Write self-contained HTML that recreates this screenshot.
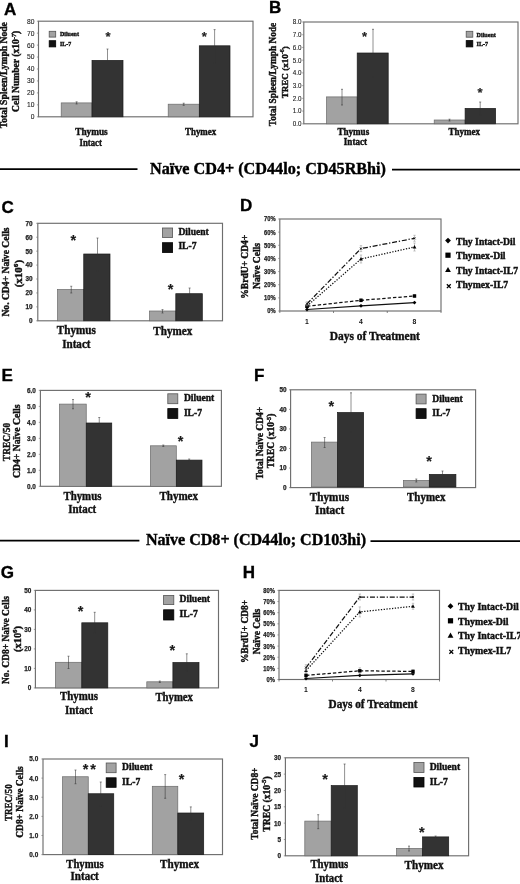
<!DOCTYPE html>
<html><head><meta charset="utf-8"><style>
html,body{margin:0;padding:0;background:#fff;}
body{width:520px;height:884px;overflow:hidden;font-family:"Liberation Serif", serif;}
svg{display:block;will-change:transform;filter:blur(0.35px);}
</style></head><body>
<svg width="520" height="884" viewBox="0 0 520 884">
<rect width="520" height="884" fill="#fff"/>
<text x="3.95" y="14.5" font-family='"Liberation Sans", sans-serif' font-weight="bold" font-size="17" text-anchor="start" fill="#000" stroke="#000" stroke-width="0.35">A</text>
<rect x="38.5" y="21.2" width="214.5" height="95.6" fill="none" stroke="#6e6e6e" stroke-width="1.15"/>
<line x1="36.9" y1="116.8" x2="38.5" y2="116.8" stroke="#777" stroke-width="0.7"/>
<text x="34.4" y="119.21" font-family='"Liberation Sans", sans-serif' font-weight="normal" font-size="6.7" text-anchor="end" fill="#1a1a1a" textLength="3.73" lengthAdjust="spacingAndGlyphs" stroke="#1a1a1a" stroke-width="0.1">0</text>
<line x1="36.9" y1="104.85" x2="38.5" y2="104.85" stroke="#777" stroke-width="0.7"/>
<text x="34.4" y="107.26" font-family='"Liberation Sans", sans-serif' font-weight="normal" font-size="6.7" text-anchor="end" fill="#1a1a1a" textLength="7.45" lengthAdjust="spacingAndGlyphs" stroke="#1a1a1a" stroke-width="0.1">10</text>
<line x1="36.9" y1="92.9" x2="38.5" y2="92.9" stroke="#777" stroke-width="0.7"/>
<text x="34.4" y="95.31" font-family='"Liberation Sans", sans-serif' font-weight="normal" font-size="6.7" text-anchor="end" fill="#1a1a1a" textLength="7.45" lengthAdjust="spacingAndGlyphs" stroke="#1a1a1a" stroke-width="0.1">20</text>
<line x1="36.9" y1="80.95" x2="38.5" y2="80.95" stroke="#777" stroke-width="0.7"/>
<text x="34.4" y="83.36" font-family='"Liberation Sans", sans-serif' font-weight="normal" font-size="6.7" text-anchor="end" fill="#1a1a1a" textLength="7.45" lengthAdjust="spacingAndGlyphs" stroke="#1a1a1a" stroke-width="0.1">30</text>
<line x1="36.9" y1="69" x2="38.5" y2="69" stroke="#777" stroke-width="0.7"/>
<text x="34.4" y="71.41" font-family='"Liberation Sans", sans-serif' font-weight="normal" font-size="6.7" text-anchor="end" fill="#1a1a1a" textLength="7.45" lengthAdjust="spacingAndGlyphs" stroke="#1a1a1a" stroke-width="0.1">40</text>
<line x1="36.9" y1="57.05" x2="38.5" y2="57.05" stroke="#777" stroke-width="0.7"/>
<text x="34.4" y="59.46" font-family='"Liberation Sans", sans-serif' font-weight="normal" font-size="6.7" text-anchor="end" fill="#1a1a1a" textLength="7.45" lengthAdjust="spacingAndGlyphs" stroke="#1a1a1a" stroke-width="0.1">50</text>
<line x1="36.9" y1="45.1" x2="38.5" y2="45.1" stroke="#777" stroke-width="0.7"/>
<text x="34.4" y="47.51" font-family='"Liberation Sans", sans-serif' font-weight="normal" font-size="6.7" text-anchor="end" fill="#1a1a1a" textLength="7.45" lengthAdjust="spacingAndGlyphs" stroke="#1a1a1a" stroke-width="0.1">60</text>
<line x1="36.9" y1="33.15" x2="38.5" y2="33.15" stroke="#777" stroke-width="0.7"/>
<text x="34.4" y="35.56" font-family='"Liberation Sans", sans-serif' font-weight="normal" font-size="6.7" text-anchor="end" fill="#1a1a1a" textLength="7.45" lengthAdjust="spacingAndGlyphs" stroke="#1a1a1a" stroke-width="0.1">70</text>
<line x1="36.9" y1="21.2" x2="38.5" y2="21.2" stroke="#777" stroke-width="0.7"/>
<text x="34.4" y="23.61" font-family='"Liberation Sans", sans-serif' font-weight="normal" font-size="6.7" text-anchor="end" fill="#1a1a1a" textLength="7.45" lengthAdjust="spacingAndGlyphs" stroke="#1a1a1a" stroke-width="0.1">80</text>
<text transform="translate(7,75.2) rotate(-90)" x="0" y="0" font-family='"Liberation Serif", serif' font-weight="bold" font-size="9.5" text-anchor="middle" fill="#111" stroke="#111" stroke-width="0.4" textLength="106" lengthAdjust="spacingAndGlyphs">Total Spleen/Lymph Node</text>
<text transform="translate(19.2,71.3) rotate(-90)" x="0" y="0" font-family='"Liberation Serif", serif' font-weight="bold" font-size="9.61" text-anchor="middle" fill="#111" stroke="#111" stroke-width="0.4">Cell Number (x10<tspan dy="-3.46" font-size="6.25">-7</tspan><tspan dy="3.46">)</tspan></text>
<rect x="61.2" y="102.9" width="30.8" height="13.9" fill="#a2a2a2" stroke="#6a6a6a" stroke-width="0.7"/>
<rect x="92" y="60.4" width="31" height="56.4" fill="#333333" stroke="#1a1a1a" stroke-width="0.7"/>
<path d="M107.5 49V72M106.5 49H108.5M106.5 72H108.5" stroke="#333" stroke-width="0.55" fill="none"/>
<path d="M76.6 101.8V104M75.6 101.8H77.6M75.6 104H77.6" stroke="#333" stroke-width="0.55" fill="none"/>
<rect x="168.2" y="104.2" width="31.1" height="12.6" fill="#a2a2a2" stroke="#6a6a6a" stroke-width="0.7"/>
<rect x="199.3" y="45.8" width="30.7" height="71" fill="#333333" stroke="#1a1a1a" stroke-width="0.7"/>
<path d="M214.6 29.6V63M213.6 29.6H215.6M213.6 63H215.6" stroke="#333" stroke-width="0.55" fill="none"/>
<path d="M183.7 103.2V105.4M182.7 103.2H184.7M182.7 105.4H184.7" stroke="#333" stroke-width="0.55" fill="none"/>
<text x="108" y="40.66" font-family='"Liberation Sans", sans-serif' font-weight="bold" font-size="13" text-anchor="middle" fill="#222" stroke="#222" stroke-width="0.15">*</text>
<text x="204.4" y="41.27" font-family='"Liberation Sans", sans-serif' font-weight="bold" font-size="13" text-anchor="middle" fill="#222" stroke="#222" stroke-width="0.15">*</text>
<rect x="49.2" y="31.3" width="6.5" height="5.8" fill="#a2a2a2" stroke="#555" stroke-width="0.8"/>
<text x="60" y="36.3" font-family='"Liberation Serif", serif' font-weight="bold" font-size="6.8" text-anchor="start" fill="#111" stroke="#111" stroke-width="0.4" textLength="18.9" lengthAdjust="spacingAndGlyphs">Diluent</text>
<rect x="49.2" y="40.7" width="6.5" height="6.2" fill="#111" stroke="#000" stroke-width="0.8"/>
<text x="60" y="45.6" font-family='"Liberation Serif", serif' font-weight="bold" font-size="6.8" text-anchor="start" fill="#111" stroke="#111" stroke-width="0.4" textLength="11.2" lengthAdjust="spacingAndGlyphs">IL-7</text>
<text x="75.2" y="135.1" font-family='"Liberation Serif", serif' font-weight="bold" font-size="9.5" text-anchor="start" fill="#111" stroke="#111" stroke-width="0.4" textLength="32.5" lengthAdjust="spacingAndGlyphs">Thymus</text>
<text x="79.6" y="145.5" font-family='"Liberation Serif", serif' font-weight="bold" font-size="9.5" text-anchor="start" fill="#111" stroke="#111" stroke-width="0.4" textLength="22.3" lengthAdjust="spacingAndGlyphs">Intact</text>
<text x="185" y="135.4" font-family='"Liberation Serif", serif' font-weight="bold" font-size="9.5" text-anchor="start" fill="#111" stroke="#111" stroke-width="0.4" textLength="31.2" lengthAdjust="spacingAndGlyphs">Thymex</text>
<text x="269.1" y="13.15" font-family='"Liberation Sans", sans-serif' font-weight="bold" font-size="17" text-anchor="start" fill="#000" stroke="#000" stroke-width="0.35">B</text>
<rect x="303.8" y="22" width="214.2" height="101.8" fill="none" stroke="#6e6e6e" stroke-width="1.15"/>
<line x1="302.2" y1="123.8" x2="303.8" y2="123.8" stroke="#777" stroke-width="0.7"/>
<text x="301.6" y="126.14" font-family='"Liberation Sans", sans-serif' font-weight="normal" font-size="6.5" text-anchor="end" fill="#1a1a1a" textLength="8.76" lengthAdjust="spacingAndGlyphs" stroke="#1a1a1a" stroke-width="0.1">0.0</text>
<line x1="302.2" y1="111.08" x2="303.8" y2="111.08" stroke="#777" stroke-width="0.7"/>
<text x="301.6" y="113.42" font-family='"Liberation Sans", sans-serif' font-weight="normal" font-size="6.5" text-anchor="end" fill="#1a1a1a" textLength="8.76" lengthAdjust="spacingAndGlyphs" stroke="#1a1a1a" stroke-width="0.1">1.0</text>
<line x1="302.2" y1="98.35" x2="303.8" y2="98.35" stroke="#777" stroke-width="0.7"/>
<text x="301.6" y="100.69" font-family='"Liberation Sans", sans-serif' font-weight="normal" font-size="6.5" text-anchor="end" fill="#1a1a1a" textLength="8.76" lengthAdjust="spacingAndGlyphs" stroke="#1a1a1a" stroke-width="0.1">2.0</text>
<line x1="302.2" y1="85.62" x2="303.8" y2="85.62" stroke="#777" stroke-width="0.7"/>
<text x="301.6" y="87.97" font-family='"Liberation Sans", sans-serif' font-weight="normal" font-size="6.5" text-anchor="end" fill="#1a1a1a" textLength="8.76" lengthAdjust="spacingAndGlyphs" stroke="#1a1a1a" stroke-width="0.1">3.0</text>
<line x1="302.2" y1="72.9" x2="303.8" y2="72.9" stroke="#777" stroke-width="0.7"/>
<text x="301.6" y="75.24" font-family='"Liberation Sans", sans-serif' font-weight="normal" font-size="6.5" text-anchor="end" fill="#1a1a1a" textLength="8.76" lengthAdjust="spacingAndGlyphs" stroke="#1a1a1a" stroke-width="0.1">4.0</text>
<line x1="302.2" y1="60.17" x2="303.8" y2="60.17" stroke="#777" stroke-width="0.7"/>
<text x="301.6" y="62.52" font-family='"Liberation Sans", sans-serif' font-weight="normal" font-size="6.5" text-anchor="end" fill="#1a1a1a" textLength="8.76" lengthAdjust="spacingAndGlyphs" stroke="#1a1a1a" stroke-width="0.1">5.0</text>
<line x1="302.2" y1="47.45" x2="303.8" y2="47.45" stroke="#777" stroke-width="0.7"/>
<text x="301.6" y="49.79" font-family='"Liberation Sans", sans-serif' font-weight="normal" font-size="6.5" text-anchor="end" fill="#1a1a1a" textLength="8.76" lengthAdjust="spacingAndGlyphs" stroke="#1a1a1a" stroke-width="0.1">6.0</text>
<line x1="302.2" y1="34.72" x2="303.8" y2="34.72" stroke="#777" stroke-width="0.7"/>
<text x="301.6" y="37.06" font-family='"Liberation Sans", sans-serif' font-weight="normal" font-size="6.5" text-anchor="end" fill="#1a1a1a" textLength="8.76" lengthAdjust="spacingAndGlyphs" stroke="#1a1a1a" stroke-width="0.1">7.0</text>
<line x1="302.2" y1="22" x2="303.8" y2="22" stroke="#777" stroke-width="0.7"/>
<text x="301.6" y="24.34" font-family='"Liberation Sans", sans-serif' font-weight="normal" font-size="6.5" text-anchor="end" fill="#1a1a1a" textLength="8.76" lengthAdjust="spacingAndGlyphs" stroke="#1a1a1a" stroke-width="0.1">8.0</text>
<text transform="translate(276.2,74.5) rotate(-90)" x="0" y="0" font-family='"Liberation Serif", serif' font-weight="bold" font-size="9.3" text-anchor="middle" fill="#111" stroke="#111" stroke-width="0.4" textLength="103.5" lengthAdjust="spacingAndGlyphs">Total Spleen/Lymph Node</text>
<text transform="translate(287.6,72.3) rotate(-90)" x="0" y="0" font-family='"Liberation Serif", serif' font-weight="bold" font-size="9.07" text-anchor="middle" fill="#111" stroke="#111" stroke-width="0.4">TREC (x10<tspan dy="-3.26" font-size="5.89">-6</tspan><tspan dy="3.26">)</tspan></text>
<rect x="326.5" y="96.9" width="30.7" height="26.9" fill="#a2a2a2" stroke="#6a6a6a" stroke-width="0.7"/>
<rect x="357.2" y="53" width="31" height="70.8" fill="#333333" stroke="#1a1a1a" stroke-width="0.7"/>
<path d="M373 29.3V76.8M372 29.3H374M372 76.8H374" stroke="#333" stroke-width="0.55" fill="none"/>
<path d="M342 89.3V105M341 89.3H343M341 105H343" stroke="#333" stroke-width="0.55" fill="none"/>
<rect x="434.2" y="120" width="30.9" height="3.8" fill="#a2a2a2" stroke="#6a6a6a" stroke-width="0.7"/>
<rect x="465.1" y="108.4" width="30.5" height="15.4" fill="#333333" stroke="#1a1a1a" stroke-width="0.7"/>
<path d="M480.2 102V114.8M479.2 102H481.2M479.2 114.8H481.2" stroke="#333" stroke-width="0.55" fill="none"/>
<path d="M449.5 119.2V121M448.5 119.2H450.5M448.5 121H450.5" stroke="#333" stroke-width="0.55" fill="none"/>
<text x="364.5" y="40.96" font-family='"Liberation Sans", sans-serif' font-weight="bold" font-size="13" text-anchor="middle" fill="#222" stroke="#222" stroke-width="0.15">*</text>
<text x="480" y="96.77" font-family='"Liberation Sans", sans-serif' font-weight="bold" font-size="13" text-anchor="middle" fill="#222" stroke="#222" stroke-width="0.15">*</text>
<rect x="466.2" y="31.3" width="6.6" height="5.9" fill="#a2a2a2" stroke="#555" stroke-width="0.8"/>
<text x="476.6" y="36.5" font-family='"Liberation Serif", serif' font-weight="bold" font-size="6.8" text-anchor="start" fill="#111" stroke="#111" stroke-width="0.4" textLength="19.2" lengthAdjust="spacingAndGlyphs">Diluent</text>
<rect x="466.2" y="40.6" width="6.6" height="6.3" fill="#111" stroke="#000" stroke-width="0.8"/>
<text x="476.6" y="45.5" font-family='"Liberation Serif", serif' font-weight="bold" font-size="6.8" text-anchor="start" fill="#111" stroke="#111" stroke-width="0.4" textLength="11.4" lengthAdjust="spacingAndGlyphs">IL-7</text>
<text x="337.4" y="135" font-family='"Liberation Serif", serif' font-weight="bold" font-size="9.5" text-anchor="start" fill="#111" stroke="#111" stroke-width="0.4" textLength="31.8" lengthAdjust="spacingAndGlyphs">Thymus</text>
<text x="343.8" y="144.7" font-family='"Liberation Serif", serif' font-weight="bold" font-size="9.5" text-anchor="start" fill="#111" stroke="#111" stroke-width="0.4" textLength="23.2" lengthAdjust="spacingAndGlyphs">Intact</text>
<text x="448.5" y="135.4" font-family='"Liberation Serif", serif' font-weight="bold" font-size="9.5" text-anchor="start" fill="#111" stroke="#111" stroke-width="0.4" textLength="31.5" lengthAdjust="spacingAndGlyphs">Thymex</text>
<line x1="0" y1="169.2" x2="137.5" y2="169.2" stroke="#000" stroke-width="1.8"/>
<text x="150" y="173.7" font-family='"Liberation Serif", serif' font-weight="bold" font-size="16.2" text-anchor="start" fill="#000" stroke="#000" stroke-width="0.4" textLength="236" lengthAdjust="spacingAndGlyphs">Naïve CD4+ (CD44lo; CD45RBhi)</text>
<line x1="392" y1="169.6" x2="520" y2="169.6" stroke="#000" stroke-width="1.8"/>
<text x="1.4" y="212.55" font-family='"Liberation Sans", sans-serif' font-weight="bold" font-size="17" text-anchor="start" fill="#000" stroke="#000" stroke-width="0.35">C</text>
<rect x="37.8" y="223.3" width="184.7" height="97.5" fill="none" stroke="#6e6e6e" stroke-width="1.15"/>
<line x1="36.2" y1="320.8" x2="37.8" y2="320.8" stroke="#777" stroke-width="0.7"/>
<text x="32.6" y="323.18" font-family='"Liberation Sans", sans-serif' font-weight="bold" font-size="6.6" text-anchor="end" fill="#222" textLength="3.56" lengthAdjust="spacingAndGlyphs" stroke="#222" stroke-width="0.25">0</text>
<line x1="36.2" y1="306.87" x2="37.8" y2="306.87" stroke="#777" stroke-width="0.7"/>
<text x="32.6" y="309.25" font-family='"Liberation Sans", sans-serif' font-weight="bold" font-size="6.6" text-anchor="end" fill="#222" textLength="7.12" lengthAdjust="spacingAndGlyphs" stroke="#222" stroke-width="0.25">10</text>
<line x1="36.2" y1="292.94" x2="37.8" y2="292.94" stroke="#777" stroke-width="0.7"/>
<text x="32.6" y="295.32" font-family='"Liberation Sans", sans-serif' font-weight="bold" font-size="6.6" text-anchor="end" fill="#222" textLength="7.12" lengthAdjust="spacingAndGlyphs" stroke="#222" stroke-width="0.25">20</text>
<line x1="36.2" y1="279.01" x2="37.8" y2="279.01" stroke="#777" stroke-width="0.7"/>
<text x="32.6" y="281.39" font-family='"Liberation Sans", sans-serif' font-weight="bold" font-size="6.6" text-anchor="end" fill="#222" textLength="7.12" lengthAdjust="spacingAndGlyphs" stroke="#222" stroke-width="0.25">30</text>
<line x1="36.2" y1="265.09" x2="37.8" y2="265.09" stroke="#777" stroke-width="0.7"/>
<text x="32.6" y="267.46" font-family='"Liberation Sans", sans-serif' font-weight="bold" font-size="6.6" text-anchor="end" fill="#222" textLength="7.12" lengthAdjust="spacingAndGlyphs" stroke="#222" stroke-width="0.25">40</text>
<line x1="36.2" y1="251.16" x2="37.8" y2="251.16" stroke="#777" stroke-width="0.7"/>
<text x="32.6" y="253.53" font-family='"Liberation Sans", sans-serif' font-weight="bold" font-size="6.6" text-anchor="end" fill="#222" textLength="7.12" lengthAdjust="spacingAndGlyphs" stroke="#222" stroke-width="0.25">50</text>
<line x1="36.2" y1="237.23" x2="37.8" y2="237.23" stroke="#777" stroke-width="0.7"/>
<text x="32.6" y="239.6" font-family='"Liberation Sans", sans-serif' font-weight="bold" font-size="6.6" text-anchor="end" fill="#222" textLength="7.12" lengthAdjust="spacingAndGlyphs" stroke="#222" stroke-width="0.25">60</text>
<line x1="36.2" y1="223.3" x2="37.8" y2="223.3" stroke="#777" stroke-width="0.7"/>
<text x="32.6" y="225.68" font-family='"Liberation Sans", sans-serif' font-weight="bold" font-size="6.6" text-anchor="end" fill="#222" textLength="7.12" lengthAdjust="spacingAndGlyphs" stroke="#222" stroke-width="0.25">70</text>
<text transform="translate(9.4,272) rotate(-90)" x="0" y="0" font-family='"Liberation Serif", serif' font-weight="bold" font-size="10.5" text-anchor="middle" fill="#111" stroke="#111" stroke-width="0.4" textLength="89.2" lengthAdjust="spacingAndGlyphs">No. CD4+ Naïve Cells</text>
<text transform="translate(21.5,273.6) rotate(-90)" x="0" y="0" font-family='"Liberation Serif", serif' font-weight="bold" font-size="11" text-anchor="middle" fill="#111" stroke="#111" stroke-width="0.4">(x10<tspan dy="-3.96" font-size="7.15">6</tspan><tspan dy="3.96">)</tspan></text>
<rect x="57.5" y="289.5" width="26.25" height="31.3" fill="#a2a2a2" stroke="#6a6a6a" stroke-width="0.7"/>
<rect x="83.75" y="254" width="26.25" height="66.8" fill="#333333" stroke="#1a1a1a" stroke-width="0.7"/>
<path d="M97.5 238V271.25M96.5 238H98.5M96.5 271.25H98.5" stroke="#333" stroke-width="0.55" fill="none"/>
<path d="M71.25 286.25V293M70.25 286.25H72.25M70.25 293H72.25" stroke="#333" stroke-width="0.55" fill="none"/>
<rect x="149.5" y="311" width="26.3" height="9.8" fill="#a2a2a2" stroke="#6a6a6a" stroke-width="0.7"/>
<rect x="175.8" y="293.7" width="26.5" height="27.1" fill="#333333" stroke="#1a1a1a" stroke-width="0.7"/>
<path d="M189.6 288V299.5M188.6 288H190.6M188.6 299.5H190.6" stroke="#333" stroke-width="0.55" fill="none"/>
<path d="M162.5 309.6V313M161.5 309.6H163.5M161.5 313H163.5" stroke="#333" stroke-width="0.55" fill="none"/>
<text x="73.3" y="245.32" font-family='"Liberation Sans", sans-serif' font-weight="bold" font-size="14.5" text-anchor="middle" fill="#1a1a1a" stroke="#1a1a1a" stroke-width="0.15">*</text>
<text x="170.6" y="293.82" font-family='"Liberation Sans", sans-serif' font-weight="bold" font-size="14.5" text-anchor="middle" fill="#1a1a1a" stroke="#1a1a1a" stroke-width="0.15">*</text>
<rect x="162.5" y="228" width="10.1" height="9.5" fill="#a2a2a2" stroke="#555" stroke-width="0.8"/>
<text x="178.4" y="235.1" font-family='"Liberation Serif", serif' font-weight="bold" font-size="9.6" text-anchor="start" fill="#111" stroke="#111" stroke-width="0.4">Diluent</text>
<rect x="162.5" y="242.7" width="10.1" height="9.8" fill="#111" stroke="#000" stroke-width="0.8"/>
<text x="178.4" y="249.4" font-family='"Liberation Serif", serif' font-weight="bold" font-size="9.6" text-anchor="start" fill="#111" stroke="#111" stroke-width="0.4">IL-7</text>
<text x="56.8" y="334.2" font-family='"Liberation Serif", serif' font-weight="bold" font-size="11.8" text-anchor="start" fill="#111" stroke="#111" stroke-width="0.4" textLength="39.1" lengthAdjust="spacingAndGlyphs">Thymus</text>
<text x="62.2" y="348" font-family='"Liberation Serif", serif' font-weight="bold" font-size="11.8" text-anchor="start" fill="#111" stroke="#111" stroke-width="0.4" textLength="28.3" lengthAdjust="spacingAndGlyphs">Intact</text>
<text x="153.3" y="335" font-family='"Liberation Serif", serif' font-weight="bold" font-size="11.8" text-anchor="start" fill="#111" stroke="#111" stroke-width="0.4" textLength="38.9" lengthAdjust="spacingAndGlyphs">Thymex</text>
<text x="1.6" y="380.95" font-family='"Liberation Sans", sans-serif' font-weight="bold" font-size="17" text-anchor="start" fill="#000" stroke="#000" stroke-width="0.35">E</text>
<rect x="40.4" y="390.4" width="181" height="95.9" fill="none" stroke="#6e6e6e" stroke-width="1.15"/>
<line x1="38.8" y1="486.3" x2="40.4" y2="486.3" stroke="#777" stroke-width="0.7"/>
<text x="35.8" y="488.68" font-family='"Liberation Sans", sans-serif' font-weight="bold" font-size="6.6" text-anchor="end" fill="#222" textLength="8.9" lengthAdjust="spacingAndGlyphs" stroke="#222" stroke-width="0.25">0.0</text>
<line x1="38.8" y1="470.32" x2="40.4" y2="470.32" stroke="#777" stroke-width="0.7"/>
<text x="35.8" y="472.69" font-family='"Liberation Sans", sans-serif' font-weight="bold" font-size="6.6" text-anchor="end" fill="#222" textLength="8.9" lengthAdjust="spacingAndGlyphs" stroke="#222" stroke-width="0.25">1.0</text>
<line x1="38.8" y1="454.33" x2="40.4" y2="454.33" stroke="#777" stroke-width="0.7"/>
<text x="35.8" y="456.71" font-family='"Liberation Sans", sans-serif' font-weight="bold" font-size="6.6" text-anchor="end" fill="#222" textLength="8.9" lengthAdjust="spacingAndGlyphs" stroke="#222" stroke-width="0.25">2.0</text>
<line x1="38.8" y1="438.35" x2="40.4" y2="438.35" stroke="#777" stroke-width="0.7"/>
<text x="35.8" y="440.73" font-family='"Liberation Sans", sans-serif' font-weight="bold" font-size="6.6" text-anchor="end" fill="#222" textLength="8.9" lengthAdjust="spacingAndGlyphs" stroke="#222" stroke-width="0.25">3.0</text>
<line x1="38.8" y1="422.37" x2="40.4" y2="422.37" stroke="#777" stroke-width="0.7"/>
<text x="35.8" y="424.74" font-family='"Liberation Sans", sans-serif' font-weight="bold" font-size="6.6" text-anchor="end" fill="#222" textLength="8.9" lengthAdjust="spacingAndGlyphs" stroke="#222" stroke-width="0.25">4.0</text>
<line x1="38.8" y1="406.38" x2="40.4" y2="406.38" stroke="#777" stroke-width="0.7"/>
<text x="35.8" y="408.76" font-family='"Liberation Sans", sans-serif' font-weight="bold" font-size="6.6" text-anchor="end" fill="#222" textLength="8.9" lengthAdjust="spacingAndGlyphs" stroke="#222" stroke-width="0.25">5.0</text>
<line x1="38.8" y1="390.4" x2="40.4" y2="390.4" stroke="#777" stroke-width="0.7"/>
<text x="35.8" y="392.78" font-family='"Liberation Sans", sans-serif' font-weight="bold" font-size="6.6" text-anchor="end" fill="#222" textLength="8.9" lengthAdjust="spacingAndGlyphs" stroke="#222" stroke-width="0.25">6.0</text>
<text transform="translate(9.6,442) rotate(-90)" x="0" y="0" font-family='"Liberation Serif", serif' font-weight="bold" font-size="10.5" text-anchor="middle" fill="#111" stroke="#111" stroke-width="0.4" textLength="38.4" lengthAdjust="spacingAndGlyphs">TREC/50</text>
<text transform="translate(20.2,441.3) rotate(-90)" x="0" y="0" font-family='"Liberation Serif", serif' font-weight="bold" font-size="10.5" text-anchor="middle" fill="#111" stroke="#111" stroke-width="0.4" textLength="73.6" lengthAdjust="spacingAndGlyphs">CD4+ Naïve Cells</text>
<rect x="59.5" y="404.1" width="26.75" height="82.2" fill="#a2a2a2" stroke="#6a6a6a" stroke-width="0.7"/>
<rect x="86.25" y="423" width="25.5" height="63.3" fill="#333333" stroke="#1a1a1a" stroke-width="0.7"/>
<path d="M73 399.5V408.75M72 399.5H74M72 408.75H74" stroke="#333" stroke-width="0.55" fill="none"/>
<path d="M99.25 417.5V428M98.25 417.5H100.25M98.25 428H100.25" stroke="#333" stroke-width="0.55" fill="none"/>
<rect x="150.4" y="445.8" width="25.9" height="40.5" fill="#a2a2a2" stroke="#6a6a6a" stroke-width="0.7"/>
<rect x="176.3" y="460.1" width="25.7" height="26.2" fill="#333333" stroke="#1a1a1a" stroke-width="0.7"/>
<path d="M163.3 445V446.5M162.3 445H164.3M162.3 446.5H164.3" stroke="#333" stroke-width="0.55" fill="none"/>
<path d="M189.2 459V461M188.2 459H190.2M188.2 461H190.2" stroke="#333" stroke-width="0.55" fill="none"/>
<text x="88" y="402.32" font-family='"Liberation Sans", sans-serif' font-weight="bold" font-size="14.5" text-anchor="middle" fill="#1a1a1a" stroke="#1a1a1a" stroke-width="0.15">*</text>
<text x="180.7" y="446.12" font-family='"Liberation Sans", sans-serif' font-weight="bold" font-size="14.5" text-anchor="middle" fill="#1a1a1a" stroke="#1a1a1a" stroke-width="0.15">*</text>
<rect x="167.8" y="393.8" width="10" height="9.9" fill="#a2a2a2" stroke="#555" stroke-width="0.8"/>
<text x="183.9" y="401.2" font-family='"Liberation Serif", serif' font-weight="bold" font-size="9.6" text-anchor="start" fill="#111" stroke="#111" stroke-width="0.4">Diluent</text>
<rect x="167.8" y="408.6" width="10" height="9.8" fill="#111" stroke="#000" stroke-width="0.8"/>
<text x="183.9" y="415.9" font-family='"Liberation Serif", serif' font-weight="bold" font-size="9.6" text-anchor="start" fill="#111" stroke="#111" stroke-width="0.4">IL-7</text>
<text x="63.4" y="499.7" font-family='"Liberation Serif", serif' font-weight="bold" font-size="11.8" text-anchor="start" fill="#111" stroke="#111" stroke-width="0.4" textLength="38" lengthAdjust="spacingAndGlyphs">Thymus</text>
<text x="68.2" y="513.2" font-family='"Liberation Serif", serif' font-weight="bold" font-size="11.8" text-anchor="start" fill="#111" stroke="#111" stroke-width="0.4" textLength="28" lengthAdjust="spacingAndGlyphs">Intact</text>
<text x="159.4" y="500.3" font-family='"Liberation Serif", serif' font-weight="bold" font-size="11.8" text-anchor="start" fill="#111" stroke="#111" stroke-width="0.4" textLength="38.6" lengthAdjust="spacingAndGlyphs">Thymex</text>
<text x="254.05" y="380.7" font-family='"Liberation Sans", sans-serif' font-weight="bold" font-size="17" text-anchor="start" fill="#000" stroke="#000" stroke-width="0.35">F</text>
<rect x="290.6" y="389.8" width="185" height="97.8" fill="none" stroke="#6e6e6e" stroke-width="1.15"/>
<line x1="289" y1="487.6" x2="290.6" y2="487.6" stroke="#777" stroke-width="0.7"/>
<text x="286.6" y="489.98" font-family='"Liberation Sans", sans-serif' font-weight="bold" font-size="6.6" text-anchor="end" fill="#222" textLength="3.56" lengthAdjust="spacingAndGlyphs" stroke="#222" stroke-width="0.25">0</text>
<line x1="289" y1="468.04" x2="290.6" y2="468.04" stroke="#777" stroke-width="0.7"/>
<text x="286.6" y="470.42" font-family='"Liberation Sans", sans-serif' font-weight="bold" font-size="6.6" text-anchor="end" fill="#222" textLength="7.12" lengthAdjust="spacingAndGlyphs" stroke="#222" stroke-width="0.25">10</text>
<line x1="289" y1="448.48" x2="290.6" y2="448.48" stroke="#777" stroke-width="0.7"/>
<text x="286.6" y="450.86" font-family='"Liberation Sans", sans-serif' font-weight="bold" font-size="6.6" text-anchor="end" fill="#222" textLength="7.12" lengthAdjust="spacingAndGlyphs" stroke="#222" stroke-width="0.25">20</text>
<line x1="289" y1="428.92" x2="290.6" y2="428.92" stroke="#777" stroke-width="0.7"/>
<text x="286.6" y="431.3" font-family='"Liberation Sans", sans-serif' font-weight="bold" font-size="6.6" text-anchor="end" fill="#222" textLength="7.12" lengthAdjust="spacingAndGlyphs" stroke="#222" stroke-width="0.25">30</text>
<line x1="289" y1="409.36" x2="290.6" y2="409.36" stroke="#777" stroke-width="0.7"/>
<text x="286.6" y="411.74" font-family='"Liberation Sans", sans-serif' font-weight="bold" font-size="6.6" text-anchor="end" fill="#222" textLength="7.12" lengthAdjust="spacingAndGlyphs" stroke="#222" stroke-width="0.25">40</text>
<line x1="289" y1="389.8" x2="290.6" y2="389.8" stroke="#777" stroke-width="0.7"/>
<text x="286.6" y="392.18" font-family='"Liberation Sans", sans-serif' font-weight="bold" font-size="6.6" text-anchor="end" fill="#222" textLength="7.12" lengthAdjust="spacingAndGlyphs" stroke="#222" stroke-width="0.25">50</text>
<text transform="translate(262.8,443.1) rotate(-90)" x="0" y="0" font-family='"Liberation Serif", serif' font-weight="bold" font-size="10.2" text-anchor="middle" fill="#111" stroke="#111" stroke-width="0.4" textLength="72.7" lengthAdjust="spacingAndGlyphs">Total Naïve CD4+</text>
<text transform="translate(274.2,441) rotate(-90)" x="0" y="0" font-family='"Liberation Serif", serif' font-weight="bold" font-size="9.54" text-anchor="middle" fill="#111" stroke="#111" stroke-width="0.4">TREC (x10<tspan dy="-3.43" font-size="6.2">-5</tspan><tspan dy="3.43">)</tspan></text>
<rect x="311.4" y="442.1" width="26.1" height="44.9" fill="#a2a2a2" stroke="#6a6a6a" stroke-width="0.7"/>
<rect x="337.5" y="412.5" width="26.1" height="74.5" fill="#333333" stroke="#1a1a1a" stroke-width="0.7"/>
<path d="M351 392.8V432.2M350 392.8H352M350 432.2H352" stroke="#333" stroke-width="0.55" fill="none"/>
<path d="M324.6 437.5V447.5M323.6 437.5H325.6M323.6 447.5H325.6" stroke="#333" stroke-width="0.55" fill="none"/>
<rect x="403.4" y="480.4" width="25.9" height="6.6" fill="#a2a2a2" stroke="#6a6a6a" stroke-width="0.7"/>
<rect x="429.3" y="474.4" width="26.6" height="12.6" fill="#333333" stroke="#1a1a1a" stroke-width="0.7"/>
<path d="M442.5 471V478.5M441.5 471H443.5M441.5 478.5H443.5" stroke="#333" stroke-width="0.55" fill="none"/>
<path d="M416.3 479V482M415.3 479H417.3M415.3 482H417.3" stroke="#333" stroke-width="0.55" fill="none"/>
<text x="331.3" y="411.22" font-family='"Liberation Sans", sans-serif' font-weight="bold" font-size="14.5" text-anchor="middle" fill="#1a1a1a" stroke="#1a1a1a" stroke-width="0.15">*</text>
<text x="429" y="465.62" font-family='"Liberation Sans", sans-serif' font-weight="bold" font-size="14.5" text-anchor="middle" fill="#1a1a1a" stroke="#1a1a1a" stroke-width="0.15">*</text>
<rect x="416.1" y="394.1" width="10" height="9.8" fill="#a2a2a2" stroke="#555" stroke-width="0.8"/>
<text x="432.3" y="401.6" font-family='"Liberation Serif", serif' font-weight="bold" font-size="9.6" text-anchor="start" fill="#111" stroke="#111" stroke-width="0.4">Diluent</text>
<rect x="416.1" y="408.7" width="10" height="9.7" fill="#111" stroke="#000" stroke-width="0.8"/>
<text x="432.3" y="416.3" font-family='"Liberation Serif", serif' font-weight="bold" font-size="9.6" text-anchor="start" fill="#111" stroke="#111" stroke-width="0.4">IL-7</text>
<text x="309.8" y="500.5" font-family='"Liberation Serif", serif' font-weight="bold" font-size="11.8" text-anchor="start" fill="#111" stroke="#111" stroke-width="0.4" textLength="39.2" lengthAdjust="spacingAndGlyphs">Thymus</text>
<text x="315" y="514" font-family='"Liberation Serif", serif' font-weight="bold" font-size="11.8" text-anchor="start" fill="#111" stroke="#111" stroke-width="0.4" textLength="29.2" lengthAdjust="spacingAndGlyphs">Intact</text>
<text x="407" y="500.5" font-family='"Liberation Serif", serif' font-weight="bold" font-size="11.8" text-anchor="start" fill="#111" stroke="#111" stroke-width="0.4" textLength="38.4" lengthAdjust="spacingAndGlyphs">Thymex</text>
<line x1="0" y1="540.6" x2="139.4" y2="540.6" stroke="#000" stroke-width="1.8"/>
<text x="145.9" y="544.6" font-family='"Liberation Serif", serif' font-weight="bold" font-size="16.2" text-anchor="start" fill="#000" stroke="#000" stroke-width="0.4" textLength="220.2" lengthAdjust="spacingAndGlyphs">Naïve CD8+ (CD44lo; CD103hi)</text>
<line x1="370.5" y1="541.2" x2="520" y2="541.2" stroke="#000" stroke-width="1.8"/>
<text x="0.7" y="578.15" font-family='"Liberation Sans", sans-serif' font-weight="bold" font-size="17" text-anchor="start" fill="#000" stroke="#000" stroke-width="0.35">G</text>
<rect x="35.4" y="590.4" width="183.1" height="97.5" fill="none" stroke="#6e6e6e" stroke-width="1.15"/>
<line x1="33.8" y1="687.9" x2="35.4" y2="687.9" stroke="#777" stroke-width="0.7"/>
<text x="31.4" y="690.28" font-family='"Liberation Sans", sans-serif' font-weight="bold" font-size="6.6" text-anchor="end" fill="#222" textLength="3.56" lengthAdjust="spacingAndGlyphs" stroke="#222" stroke-width="0.25">0</text>
<line x1="33.8" y1="668.4" x2="35.4" y2="668.4" stroke="#777" stroke-width="0.7"/>
<text x="31.4" y="670.78" font-family='"Liberation Sans", sans-serif' font-weight="bold" font-size="6.6" text-anchor="end" fill="#222" textLength="7.12" lengthAdjust="spacingAndGlyphs" stroke="#222" stroke-width="0.25">10</text>
<line x1="33.8" y1="648.9" x2="35.4" y2="648.9" stroke="#777" stroke-width="0.7"/>
<text x="31.4" y="651.28" font-family='"Liberation Sans", sans-serif' font-weight="bold" font-size="6.6" text-anchor="end" fill="#222" textLength="7.12" lengthAdjust="spacingAndGlyphs" stroke="#222" stroke-width="0.25">20</text>
<line x1="33.8" y1="629.4" x2="35.4" y2="629.4" stroke="#777" stroke-width="0.7"/>
<text x="31.4" y="631.78" font-family='"Liberation Sans", sans-serif' font-weight="bold" font-size="6.6" text-anchor="end" fill="#222" textLength="7.12" lengthAdjust="spacingAndGlyphs" stroke="#222" stroke-width="0.25">30</text>
<line x1="33.8" y1="609.9" x2="35.4" y2="609.9" stroke="#777" stroke-width="0.7"/>
<text x="31.4" y="612.28" font-family='"Liberation Sans", sans-serif' font-weight="bold" font-size="6.6" text-anchor="end" fill="#222" textLength="7.12" lengthAdjust="spacingAndGlyphs" stroke="#222" stroke-width="0.25">40</text>
<line x1="33.8" y1="590.4" x2="35.4" y2="590.4" stroke="#777" stroke-width="0.7"/>
<text x="31.4" y="592.78" font-family='"Liberation Sans", sans-serif' font-weight="bold" font-size="6.6" text-anchor="end" fill="#222" textLength="7.12" lengthAdjust="spacingAndGlyphs" stroke="#222" stroke-width="0.25">50</text>
<text transform="translate(8.8,640) rotate(-90)" x="0" y="0" font-family='"Liberation Serif", serif' font-weight="bold" font-size="10.5" text-anchor="middle" fill="#111" stroke="#111" stroke-width="0.4" textLength="88" lengthAdjust="spacingAndGlyphs">No. CD8+ Naïve Cells</text>
<text transform="translate(20.6,639) rotate(-90)" x="0" y="0" font-family='"Liberation Serif", serif' font-weight="bold" font-size="10.44" text-anchor="middle" fill="#111" stroke="#111" stroke-width="0.4">(x10<tspan dy="-3.76" font-size="6.78">6</tspan><tspan dy="3.76">)</tspan></text>
<rect x="55.4" y="662.3" width="26.4" height="25.6" fill="#a2a2a2" stroke="#6a6a6a" stroke-width="0.7"/>
<rect x="81.8" y="622.8" width="26" height="65.1" fill="#333333" stroke="#1a1a1a" stroke-width="0.7"/>
<path d="M94.7 612.3V633M93.7 612.3H95.7M93.7 633H95.7" stroke="#333" stroke-width="0.55" fill="none"/>
<path d="M68.5 656.2V668.5M67.5 656.2H69.5M67.5 668.5H69.5" stroke="#333" stroke-width="0.55" fill="none"/>
<rect x="146.8" y="681.8" width="26.1" height="6.1" fill="#a2a2a2" stroke="#6a6a6a" stroke-width="0.7"/>
<rect x="172.9" y="662.5" width="26.1" height="25.4" fill="#333333" stroke="#1a1a1a" stroke-width="0.7"/>
<path d="M186.8 653.8V671.4M185.8 653.8H187.8M185.8 671.4H187.8" stroke="#333" stroke-width="0.55" fill="none"/>
<path d="M159.8 681V682.5M158.8 681H160.8M158.8 682.5H160.8" stroke="#333" stroke-width="0.55" fill="none"/>
<text x="80.5" y="615.57" font-family='"Liberation Sans", sans-serif' font-weight="bold" font-size="14.5" text-anchor="middle" fill="#1a1a1a" stroke="#1a1a1a" stroke-width="0.15">*</text>
<text x="172.3" y="655.02" font-family='"Liberation Sans", sans-serif' font-weight="bold" font-size="14.5" text-anchor="middle" fill="#1a1a1a" stroke="#1a1a1a" stroke-width="0.15">*</text>
<rect x="163.6" y="595.4" width="10.2" height="9.2" fill="#a2a2a2" stroke="#555" stroke-width="0.8"/>
<text x="179.6" y="602.1" font-family='"Liberation Serif", serif' font-weight="bold" font-size="9.6" text-anchor="start" fill="#111" stroke="#111" stroke-width="0.4">Diluent</text>
<rect x="163.6" y="609.8" width="10.2" height="10.2" fill="#111" stroke="#000" stroke-width="0.8"/>
<text x="179.6" y="616.8" font-family='"Liberation Serif", serif' font-weight="bold" font-size="9.6" text-anchor="start" fill="#111" stroke="#111" stroke-width="0.4">IL-7</text>
<text x="59.9" y="700.2" font-family='"Liberation Serif", serif' font-weight="bold" font-size="11.8" text-anchor="start" fill="#111" stroke="#111" stroke-width="0.4" textLength="38.1" lengthAdjust="spacingAndGlyphs">Thymus</text>
<text x="65.1" y="713.6" font-family='"Liberation Serif", serif' font-weight="bold" font-size="11.8" text-anchor="start" fill="#111" stroke="#111" stroke-width="0.4" textLength="27.7" lengthAdjust="spacingAndGlyphs">Intact</text>
<text x="155.4" y="701" font-family='"Liberation Serif", serif' font-weight="bold" font-size="11.8" text-anchor="start" fill="#111" stroke="#111" stroke-width="0.4" textLength="37.6" lengthAdjust="spacingAndGlyphs">Thymex</text>
<text x="3.95" y="746.65" font-family='"Liberation Sans", sans-serif' font-weight="bold" font-size="17" text-anchor="start" fill="#000" stroke="#000" stroke-width="0.35">I</text>
<rect x="43" y="759" width="179.5" height="95.6" fill="none" stroke="#6e6e6e" stroke-width="1.15"/>
<line x1="41.4" y1="854.6" x2="43" y2="854.6" stroke="#777" stroke-width="0.7"/>
<text x="38.2" y="856.98" font-family='"Liberation Sans", sans-serif' font-weight="bold" font-size="6.6" text-anchor="end" fill="#222" textLength="8.9" lengthAdjust="spacingAndGlyphs" stroke="#222" stroke-width="0.25">0.0</text>
<line x1="41.4" y1="835.48" x2="43" y2="835.48" stroke="#777" stroke-width="0.7"/>
<text x="38.2" y="837.86" font-family='"Liberation Sans", sans-serif' font-weight="bold" font-size="6.6" text-anchor="end" fill="#222" textLength="8.9" lengthAdjust="spacingAndGlyphs" stroke="#222" stroke-width="0.25">1.0</text>
<line x1="41.4" y1="816.36" x2="43" y2="816.36" stroke="#777" stroke-width="0.7"/>
<text x="38.2" y="818.74" font-family='"Liberation Sans", sans-serif' font-weight="bold" font-size="6.6" text-anchor="end" fill="#222" textLength="8.9" lengthAdjust="spacingAndGlyphs" stroke="#222" stroke-width="0.25">2.0</text>
<line x1="41.4" y1="797.24" x2="43" y2="797.24" stroke="#777" stroke-width="0.7"/>
<text x="38.2" y="799.62" font-family='"Liberation Sans", sans-serif' font-weight="bold" font-size="6.6" text-anchor="end" fill="#222" textLength="8.9" lengthAdjust="spacingAndGlyphs" stroke="#222" stroke-width="0.25">3.0</text>
<line x1="41.4" y1="778.12" x2="43" y2="778.12" stroke="#777" stroke-width="0.7"/>
<text x="38.2" y="780.5" font-family='"Liberation Sans", sans-serif' font-weight="bold" font-size="6.6" text-anchor="end" fill="#222" textLength="8.9" lengthAdjust="spacingAndGlyphs" stroke="#222" stroke-width="0.25">4.0</text>
<line x1="41.4" y1="759" x2="43" y2="759" stroke="#777" stroke-width="0.7"/>
<text x="38.2" y="761.38" font-family='"Liberation Sans", sans-serif' font-weight="bold" font-size="6.6" text-anchor="end" fill="#222" textLength="8.9" lengthAdjust="spacingAndGlyphs" stroke="#222" stroke-width="0.25">5.0</text>
<text transform="translate(12.4,802.7) rotate(-90)" x="0" y="0" font-family='"Liberation Serif", serif' font-weight="bold" font-size="10.5" text-anchor="middle" fill="#111" stroke="#111" stroke-width="0.4" textLength="36.7" lengthAdjust="spacingAndGlyphs">TREC/50</text>
<text transform="translate(23.2,802) rotate(-90)" x="0" y="0" font-family='"Liberation Serif", serif' font-weight="bold" font-size="10.5" text-anchor="middle" fill="#111" stroke="#111" stroke-width="0.4" textLength="71.5" lengthAdjust="spacingAndGlyphs">CD8+ Naïve Cells</text>
<rect x="62.5" y="776.75" width="25.75" height="77.85" fill="#a2a2a2" stroke="#6a6a6a" stroke-width="0.7"/>
<rect x="88.25" y="793.75" width="25.5" height="60.85" fill="#333333" stroke="#1a1a1a" stroke-width="0.7"/>
<path d="M75.5 770V783.75M74.5 770H76.5M74.5 783.75H76.5" stroke="#333" stroke-width="0.55" fill="none"/>
<path d="M100.75 782V806.25M99.75 782H101.75M99.75 806.25H101.75" stroke="#333" stroke-width="0.55" fill="none"/>
<rect x="152.3" y="786.3" width="25.5" height="68.3" fill="#a2a2a2" stroke="#6a6a6a" stroke-width="0.7"/>
<rect x="177.8" y="813" width="25.9" height="41.6" fill="#333333" stroke="#1a1a1a" stroke-width="0.7"/>
<path d="M165.2 774.6V798.3M164.2 774.6H166.2M164.2 798.3H166.2" stroke="#333" stroke-width="0.55" fill="none"/>
<path d="M190.8 806.9V819.8M189.8 806.9H191.8M189.8 819.8H191.8" stroke="#333" stroke-width="0.55" fill="none"/>
<text x="85.7" y="773.72" font-family='"Liberation Sans", sans-serif' font-weight="bold" font-size="14.5" text-anchor="middle" fill="#1a1a1a" stroke="#1a1a1a" stroke-width="0.15">*</text>
<text x="93.1" y="773.72" font-family='"Liberation Sans", sans-serif' font-weight="bold" font-size="14.5" text-anchor="middle" fill="#1a1a1a" stroke="#1a1a1a" stroke-width="0.15">*</text>
<text x="181.5" y="784.12" font-family='"Liberation Sans", sans-serif' font-weight="bold" font-size="14.5" text-anchor="middle" fill="#1a1a1a" stroke="#1a1a1a" stroke-width="0.15">*</text>
<rect x="106.2" y="763" width="9.9" height="9.7" fill="#a2a2a2" stroke="#555" stroke-width="0.8"/>
<text x="122.1" y="770" font-family='"Liberation Serif", serif' font-weight="bold" font-size="9.6" text-anchor="start" fill="#111" stroke="#111" stroke-width="0.4">Diluent</text>
<rect x="106.2" y="777.8" width="9.9" height="9.5" fill="#111" stroke="#000" stroke-width="0.8"/>
<text x="122.1" y="785.2" font-family='"Liberation Serif", serif' font-weight="bold" font-size="9.6" text-anchor="start" fill="#111" stroke="#111" stroke-width="0.4">IL-7</text>
<text x="66.25" y="867.5" font-family='"Liberation Serif", serif' font-weight="bold" font-size="11.8" text-anchor="start" fill="#111" stroke="#111" stroke-width="0.4" textLength="37.5" lengthAdjust="spacingAndGlyphs">Thymus</text>
<text x="70.5" y="880" font-family='"Liberation Serif", serif' font-weight="bold" font-size="11.8" text-anchor="start" fill="#111" stroke="#111" stroke-width="0.4" textLength="28.25" lengthAdjust="spacingAndGlyphs">Intact</text>
<text x="160" y="867.8" font-family='"Liberation Serif", serif' font-weight="bold" font-size="11.8" text-anchor="start" fill="#111" stroke="#111" stroke-width="0.4" textLength="39" lengthAdjust="spacingAndGlyphs">Thymex</text>
<text x="249.5" y="747.3" font-family='"Liberation Sans", sans-serif' font-weight="bold" font-size="17" text-anchor="start" fill="#000" stroke="#000" stroke-width="0.35">J</text>
<rect x="285.4" y="757.8" width="183.2" height="98" fill="none" stroke="#6e6e6e" stroke-width="1.15"/>
<line x1="283.8" y1="855.8" x2="285.4" y2="855.8" stroke="#777" stroke-width="0.7"/>
<text x="281" y="858.18" font-family='"Liberation Sans", sans-serif' font-weight="bold" font-size="6.6" text-anchor="end" fill="#222" textLength="3.56" lengthAdjust="spacingAndGlyphs" stroke="#222" stroke-width="0.25">0</text>
<line x1="283.8" y1="839.47" x2="285.4" y2="839.47" stroke="#777" stroke-width="0.7"/>
<text x="281" y="841.84" font-family='"Liberation Sans", sans-serif' font-weight="bold" font-size="6.6" text-anchor="end" fill="#222" textLength="3.56" lengthAdjust="spacingAndGlyphs" stroke="#222" stroke-width="0.25">5</text>
<line x1="283.8" y1="823.13" x2="285.4" y2="823.13" stroke="#777" stroke-width="0.7"/>
<text x="281" y="825.51" font-family='"Liberation Sans", sans-serif' font-weight="bold" font-size="6.6" text-anchor="end" fill="#222" textLength="7.12" lengthAdjust="spacingAndGlyphs" stroke="#222" stroke-width="0.25">10</text>
<line x1="283.8" y1="806.8" x2="285.4" y2="806.8" stroke="#777" stroke-width="0.7"/>
<text x="281" y="809.18" font-family='"Liberation Sans", sans-serif' font-weight="bold" font-size="6.6" text-anchor="end" fill="#222" textLength="7.12" lengthAdjust="spacingAndGlyphs" stroke="#222" stroke-width="0.25">15</text>
<line x1="283.8" y1="790.47" x2="285.4" y2="790.47" stroke="#777" stroke-width="0.7"/>
<text x="281" y="792.84" font-family='"Liberation Sans", sans-serif' font-weight="bold" font-size="6.6" text-anchor="end" fill="#222" textLength="7.12" lengthAdjust="spacingAndGlyphs" stroke="#222" stroke-width="0.25">20</text>
<line x1="283.8" y1="774.13" x2="285.4" y2="774.13" stroke="#777" stroke-width="0.7"/>
<text x="281" y="776.51" font-family='"Liberation Sans", sans-serif' font-weight="bold" font-size="6.6" text-anchor="end" fill="#222" textLength="7.12" lengthAdjust="spacingAndGlyphs" stroke="#222" stroke-width="0.25">25</text>
<line x1="283.8" y1="757.8" x2="285.4" y2="757.8" stroke="#777" stroke-width="0.7"/>
<text x="281" y="760.18" font-family='"Liberation Sans", sans-serif' font-weight="bold" font-size="6.6" text-anchor="end" fill="#222" textLength="7.12" lengthAdjust="spacingAndGlyphs" stroke="#222" stroke-width="0.25">30</text>
<text transform="translate(257.6,803.6) rotate(-90)" x="0" y="0" font-family='"Liberation Serif", serif' font-weight="bold" font-size="10.2" text-anchor="middle" fill="#111" stroke="#111" stroke-width="0.4" textLength="72.2" lengthAdjust="spacingAndGlyphs">Total Naïve CD8+</text>
<text transform="translate(269.8,804) rotate(-90)" x="0" y="0" font-family='"Liberation Serif", serif' font-weight="bold" font-size="9.64" text-anchor="middle" fill="#111" stroke="#111" stroke-width="0.4">TREC (x10<tspan dy="-3.47" font-size="6.27">-5</tspan><tspan dy="3.47">)</tspan></text>
<rect x="304.8" y="821.1" width="26.4" height="34.7" fill="#a2a2a2" stroke="#6a6a6a" stroke-width="0.7"/>
<rect x="331.2" y="785.6" width="26.1" height="70.2" fill="#333333" stroke="#1a1a1a" stroke-width="0.7"/>
<path d="M344.6 764V807.9M343.6 764H345.6M343.6 807.9H345.6" stroke="#333" stroke-width="0.55" fill="none"/>
<path d="M318.2 814.7V828.7M317.2 814.7H319.2M317.2 828.7H319.2" stroke="#333" stroke-width="0.55" fill="none"/>
<rect x="396.5" y="848.4" width="26" height="7.4" fill="#a2a2a2" stroke="#6a6a6a" stroke-width="0.7"/>
<rect x="422.5" y="836.9" width="26.2" height="18.9" fill="#333333" stroke="#1a1a1a" stroke-width="0.7"/>
<path d="M409 846.1V851M408 846.1H410M408 851H410" stroke="#333" stroke-width="0.55" fill="none"/>
<path d="M435.6 836V838M434.6 836H436.6M434.6 838H436.6" stroke="#333" stroke-width="0.55" fill="none"/>
<text x="325.2" y="783.52" font-family='"Liberation Sans", sans-serif' font-weight="bold" font-size="14.5" text-anchor="middle" fill="#1a1a1a" stroke="#1a1a1a" stroke-width="0.15">*</text>
<text x="421.9" y="836.72" font-family='"Liberation Sans", sans-serif' font-weight="bold" font-size="14.5" text-anchor="middle" fill="#1a1a1a" stroke="#1a1a1a" stroke-width="0.15">*</text>
<rect x="413.9" y="762.5" width="10.1" height="10.1" fill="#a2a2a2" stroke="#555" stroke-width="0.8"/>
<text x="429.7" y="770.2" font-family='"Liberation Serif", serif' font-weight="bold" font-size="9.6" text-anchor="start" fill="#111" stroke="#111" stroke-width="0.4">Diluent</text>
<rect x="413.9" y="777.5" width="10.1" height="9.5" fill="#111" stroke="#000" stroke-width="0.8"/>
<text x="429.7" y="784.6" font-family='"Liberation Serif", serif' font-weight="bold" font-size="9.6" text-anchor="start" fill="#111" stroke="#111" stroke-width="0.4">IL-7</text>
<text x="310.4" y="868.2" font-family='"Liberation Serif", serif' font-weight="bold" font-size="11.8" text-anchor="start" fill="#111" stroke="#111" stroke-width="0.4" textLength="37.7" lengthAdjust="spacingAndGlyphs">Thymus</text>
<text x="315" y="881.7" font-family='"Liberation Serif", serif' font-weight="bold" font-size="11.8" text-anchor="start" fill="#111" stroke="#111" stroke-width="0.4" textLength="27.5" lengthAdjust="spacingAndGlyphs">Intact</text>
<text x="404.6" y="868.6" font-family='"Liberation Serif", serif' font-weight="bold" font-size="11.8" text-anchor="start" fill="#111" stroke="#111" stroke-width="0.4" textLength="38.9" lengthAdjust="spacingAndGlyphs">Thymex</text>
<text x="239.95" y="210.5" font-family='"Liberation Sans", sans-serif' font-weight="bold" font-size="17" text-anchor="start" fill="#000" stroke="#000" stroke-width="0.35">D</text>
<text transform="translate(248.2,266.7) rotate(-90)" x="0" y="0" font-family='"Liberation Serif", serif' font-weight="bold" font-size="9.5" text-anchor="middle" fill="#111" stroke="#111" stroke-width="0.4" textLength="64" lengthAdjust="spacingAndGlyphs">%BrdU+ CD4+</text>
<text transform="translate(259.8,266) rotate(-90)" x="0" y="0" font-family='"Liberation Serif", serif' font-weight="bold" font-size="9.5" text-anchor="middle" fill="#111" stroke="#111" stroke-width="0.4" textLength="46" lengthAdjust="spacingAndGlyphs">Naïve Cells</text>
<rect x="279.8" y="219" width="161.2" height="92" fill="none" stroke="#6e6e6e" stroke-width="1.15"/>
<line x1="278.2" y1="311" x2="279.8" y2="311" stroke="#777" stroke-width="0.7"/>
<text x="275.7" y="313.48" font-family='"Liberation Sans", sans-serif' font-weight="bold" font-size="6.9" text-anchor="end" fill="#222" textLength="8.38" lengthAdjust="spacingAndGlyphs" stroke="#222" stroke-width="0.25">0%</text>
<line x1="278.2" y1="297.86" x2="279.8" y2="297.86" stroke="#777" stroke-width="0.7"/>
<text x="275.7" y="300.34" font-family='"Liberation Sans", sans-serif' font-weight="bold" font-size="6.9" text-anchor="end" fill="#222" textLength="11.6" lengthAdjust="spacingAndGlyphs" stroke="#222" stroke-width="0.25">10%</text>
<line x1="278.2" y1="284.71" x2="279.8" y2="284.71" stroke="#777" stroke-width="0.7"/>
<text x="275.7" y="287.2" font-family='"Liberation Sans", sans-serif' font-weight="bold" font-size="6.9" text-anchor="end" fill="#222" textLength="11.6" lengthAdjust="spacingAndGlyphs" stroke="#222" stroke-width="0.25">20%</text>
<line x1="278.2" y1="271.57" x2="279.8" y2="271.57" stroke="#777" stroke-width="0.7"/>
<text x="275.7" y="274.06" font-family='"Liberation Sans", sans-serif' font-weight="bold" font-size="6.9" text-anchor="end" fill="#222" textLength="11.6" lengthAdjust="spacingAndGlyphs" stroke="#222" stroke-width="0.25">30%</text>
<line x1="278.2" y1="258.43" x2="279.8" y2="258.43" stroke="#777" stroke-width="0.7"/>
<text x="275.7" y="260.91" font-family='"Liberation Sans", sans-serif' font-weight="bold" font-size="6.9" text-anchor="end" fill="#222" textLength="11.6" lengthAdjust="spacingAndGlyphs" stroke="#222" stroke-width="0.25">40%</text>
<line x1="278.2" y1="245.29" x2="279.8" y2="245.29" stroke="#777" stroke-width="0.7"/>
<text x="275.7" y="247.77" font-family='"Liberation Sans", sans-serif' font-weight="bold" font-size="6.9" text-anchor="end" fill="#222" textLength="11.6" lengthAdjust="spacingAndGlyphs" stroke="#222" stroke-width="0.25">50%</text>
<line x1="278.2" y1="232.14" x2="279.8" y2="232.14" stroke="#777" stroke-width="0.7"/>
<text x="275.7" y="234.63" font-family='"Liberation Sans", sans-serif' font-weight="bold" font-size="6.9" text-anchor="end" fill="#222" textLength="11.6" lengthAdjust="spacingAndGlyphs" stroke="#222" stroke-width="0.25">60%</text>
<line x1="278.2" y1="219" x2="279.8" y2="219" stroke="#777" stroke-width="0.7"/>
<text x="275.7" y="221.48" font-family='"Liberation Sans", sans-serif' font-weight="bold" font-size="6.9" text-anchor="end" fill="#222" textLength="11.6" lengthAdjust="spacingAndGlyphs" stroke="#222" stroke-width="0.25">70%</text>
<line x1="279.8" y1="311" x2="279.8" y2="313" stroke="#666" stroke-width="0.8"/>
<line x1="333.53" y1="311" x2="333.53" y2="313" stroke="#666" stroke-width="0.8"/>
<line x1="387.27" y1="311" x2="387.27" y2="313" stroke="#666" stroke-width="0.8"/>
<line x1="441" y1="311" x2="441" y2="313" stroke="#666" stroke-width="0.8"/>
<text x="307" y="324.4" font-family='"Liberation Sans", sans-serif' font-weight="bold" font-size="6.8" text-anchor="middle" fill="#111">1</text>
<text x="361" y="324.4" font-family='"Liberation Sans", sans-serif' font-weight="bold" font-size="6.8" text-anchor="middle" fill="#111">4</text>
<text x="414.5" y="324.4" font-family='"Liberation Sans", sans-serif' font-weight="bold" font-size="6.8" text-anchor="middle" fill="#111">8</text>
<polyline points="307,309.5 361,305.8 414.5,302.6" fill="none" stroke="#111" stroke-width="1.25"/>
<path d="M307 307.6L308.9 309.5L307 311.4L305.1 309.5Z" fill="#000"/>
<path d="M361 303.9L362.9 305.8L361 307.7L359.1 305.8Z" fill="#000"/>
<path d="M414.5 300.7L416.4 302.6L414.5 304.5L412.6 302.6Z" fill="#000"/>
<polyline points="307,306.3 361,300.3 414.5,296" fill="none" stroke="#111" stroke-width="1.25" stroke-dasharray="3.4 2"/>
<rect x="305.29" y="304.59" width="3.42" height="3.42" fill="#000"/>
<path d="M361 298.8V301.8M359.8 298.8H362.2M359.8 301.8H362.2" stroke="#999" stroke-width="0.55" fill="none"/>
<rect x="359.29" y="298.59" width="3.42" height="3.42" fill="#000"/>
<path d="M414.5 294.5V297.5M413.3 294.5H415.7M413.3 297.5H415.7" stroke="#999" stroke-width="0.55" fill="none"/>
<rect x="412.79" y="294.29" width="3.42" height="3.42" fill="#000"/>
<polyline points="307,306 361,259 414.5,247" fill="none" stroke="#111" stroke-width="1.25" stroke-dasharray="1.3 1.5"/>
<path d="M307 304.1L308.9 307.52L305.1 307.52Z" fill="#000"/>
<path d="M361 255V263M359.8 255H362.2M359.8 263H362.2" stroke="#999" stroke-width="0.55" fill="none"/>
<path d="M361 257.1L362.9 260.52L359.1 260.52Z" fill="#000"/>
<path d="M414.5 243V251M413.3 243H415.7M413.3 251H415.7" stroke="#999" stroke-width="0.55" fill="none"/>
<path d="M414.5 245.1L416.4 248.52L412.6 248.52Z" fill="#000"/>
<polyline points="307,303.8 361,248.6 414.5,238.3" fill="none" stroke="#111" stroke-width="1.25" stroke-dasharray="5 1.8 1.3 1.8"/>
<path d="M307 301.8V305.8M305.8 301.8H308.2M305.8 305.8H308.2" stroke="#999" stroke-width="0.55" fill="none"/>
<path d="M305.96 302.76L308.04 304.84M308.04 302.76L305.96 304.84" stroke="#000" stroke-width="0.72"/>
<path d="M361 245.6V251.6M359.8 245.6H362.2M359.8 251.6H362.2" stroke="#999" stroke-width="0.55" fill="none"/>
<path d="M359.96 247.56L362.04 249.64M362.04 247.56L359.96 249.64" stroke="#000" stroke-width="0.72"/>
<path d="M414.5 235.3V241.3M413.3 235.3H415.7M413.3 241.3H415.7" stroke="#999" stroke-width="0.55" fill="none"/>
<path d="M413.46 237.26L415.54 239.34M415.54 237.26L413.46 239.34" stroke="#000" stroke-width="0.72"/>
<text x="329.8" y="339.8" font-family='"Liberation Serif", serif' font-weight="bold" font-size="11.9" text-anchor="start" fill="#111" stroke="#111" stroke-width="0.4" textLength="90" lengthAdjust="spacingAndGlyphs">Days of Treatment</text>
<path d="M448 237.7L450.9 240.6L448 243.5L445.1 240.6Z" fill="#000"/>
<text x="456" y="244.6" font-family='"Liberation Serif", serif' font-weight="bold" font-size="9.7" text-anchor="start" fill="#111" stroke="#111" stroke-width="0.4">Thy Intact-Dil</text>
<rect x="445.39" y="252.59" width="5.22" height="5.22" fill="#000"/>
<text x="456" y="259.2" font-family='"Liberation Serif", serif' font-weight="bold" font-size="9.7" text-anchor="start" fill="#111" stroke="#111" stroke-width="0.4">Thymex-Dil</text>
<path d="M448 266.9L450.9 272.12L445.1 272.12Z" fill="#000"/>
<text x="456" y="273.8" font-family='"Liberation Serif", serif' font-weight="bold" font-size="9.7" text-anchor="start" fill="#111" stroke="#111" stroke-width="0.4">Thy Intact-IL7</text>
<path d="M446.88 284.28L450.72 288.12M450.72 284.28L446.88 288.12" stroke="#000" stroke-width="1.32"/>
<text x="456" y="288.4" font-family='"Liberation Serif", serif' font-weight="bold" font-size="9.7" text-anchor="start" fill="#111" stroke="#111" stroke-width="0.4">Thymex-IL7</text>
<text x="242.75" y="578.25" font-family='"Liberation Sans", sans-serif' font-weight="bold" font-size="17" text-anchor="start" fill="#000" stroke="#000" stroke-width="0.35">H</text>
<text transform="translate(248.4,631.5) rotate(-90)" x="0" y="0" font-family='"Liberation Serif", serif' font-weight="bold" font-size="9.5" text-anchor="middle" fill="#111" stroke="#111" stroke-width="0.4" textLength="63" lengthAdjust="spacingAndGlyphs">%BrdU+ CD8+</text>
<text transform="translate(259.8,631.5) rotate(-90)" x="0" y="0" font-family='"Liberation Serif", serif' font-weight="bold" font-size="9.5" text-anchor="middle" fill="#111" stroke="#111" stroke-width="0.4" textLength="45.5" lengthAdjust="spacingAndGlyphs">Naïve Cells</text>
<rect x="279" y="590.4" width="160.5" height="89.1" fill="none" stroke="#6e6e6e" stroke-width="1.15"/>
<line x1="277.4" y1="679.5" x2="279" y2="679.5" stroke="#777" stroke-width="0.7"/>
<text x="274.9" y="681.98" font-family='"Liberation Sans", sans-serif' font-weight="bold" font-size="6.9" text-anchor="end" fill="#222" textLength="8.38" lengthAdjust="spacingAndGlyphs" stroke="#222" stroke-width="0.25">0%</text>
<line x1="277.4" y1="668.36" x2="279" y2="668.36" stroke="#777" stroke-width="0.7"/>
<text x="274.9" y="670.85" font-family='"Liberation Sans", sans-serif' font-weight="bold" font-size="6.9" text-anchor="end" fill="#222" textLength="11.6" lengthAdjust="spacingAndGlyphs" stroke="#222" stroke-width="0.25">10%</text>
<line x1="277.4" y1="657.23" x2="279" y2="657.23" stroke="#777" stroke-width="0.7"/>
<text x="274.9" y="659.71" font-family='"Liberation Sans", sans-serif' font-weight="bold" font-size="6.9" text-anchor="end" fill="#222" textLength="11.6" lengthAdjust="spacingAndGlyphs" stroke="#222" stroke-width="0.25">20%</text>
<line x1="277.4" y1="646.09" x2="279" y2="646.09" stroke="#777" stroke-width="0.7"/>
<text x="274.9" y="648.57" font-family='"Liberation Sans", sans-serif' font-weight="bold" font-size="6.9" text-anchor="end" fill="#222" textLength="11.6" lengthAdjust="spacingAndGlyphs" stroke="#222" stroke-width="0.25">30%</text>
<line x1="277.4" y1="634.95" x2="279" y2="634.95" stroke="#777" stroke-width="0.7"/>
<text x="274.9" y="637.43" font-family='"Liberation Sans", sans-serif' font-weight="bold" font-size="6.9" text-anchor="end" fill="#222" textLength="11.6" lengthAdjust="spacingAndGlyphs" stroke="#222" stroke-width="0.25">40%</text>
<line x1="277.4" y1="623.81" x2="279" y2="623.81" stroke="#777" stroke-width="0.7"/>
<text x="274.9" y="626.3" font-family='"Liberation Sans", sans-serif' font-weight="bold" font-size="6.9" text-anchor="end" fill="#222" textLength="11.6" lengthAdjust="spacingAndGlyphs" stroke="#222" stroke-width="0.25">50%</text>
<line x1="277.4" y1="612.67" x2="279" y2="612.67" stroke="#777" stroke-width="0.7"/>
<text x="274.9" y="615.16" font-family='"Liberation Sans", sans-serif' font-weight="bold" font-size="6.9" text-anchor="end" fill="#222" textLength="11.6" lengthAdjust="spacingAndGlyphs" stroke="#222" stroke-width="0.25">60%</text>
<line x1="277.4" y1="601.54" x2="279" y2="601.54" stroke="#777" stroke-width="0.7"/>
<text x="274.9" y="604.02" font-family='"Liberation Sans", sans-serif' font-weight="bold" font-size="6.9" text-anchor="end" fill="#222" textLength="11.6" lengthAdjust="spacingAndGlyphs" stroke="#222" stroke-width="0.25">70%</text>
<line x1="277.4" y1="590.4" x2="279" y2="590.4" stroke="#777" stroke-width="0.7"/>
<text x="274.9" y="592.88" font-family='"Liberation Sans", sans-serif' font-weight="bold" font-size="6.9" text-anchor="end" fill="#222" textLength="11.6" lengthAdjust="spacingAndGlyphs" stroke="#222" stroke-width="0.25">80%</text>
<line x1="279" y1="679.5" x2="279" y2="681.5" stroke="#666" stroke-width="0.8"/>
<line x1="332.5" y1="679.5" x2="332.5" y2="681.5" stroke="#666" stroke-width="0.8"/>
<line x1="386" y1="679.5" x2="386" y2="681.5" stroke="#666" stroke-width="0.8"/>
<line x1="439.5" y1="679.5" x2="439.5" y2="681.5" stroke="#666" stroke-width="0.8"/>
<text x="306" y="692.2" font-family='"Liberation Sans", sans-serif' font-weight="bold" font-size="6.8" text-anchor="middle" fill="#111">1</text>
<text x="359.8" y="692.2" font-family='"Liberation Sans", sans-serif' font-weight="bold" font-size="6.8" text-anchor="middle" fill="#111">4</text>
<text x="413" y="692.2" font-family='"Liberation Sans", sans-serif' font-weight="bold" font-size="6.8" text-anchor="middle" fill="#111">8</text>
<polyline points="306,678.5 359.8,675.4 413,673.8" fill="none" stroke="#111" stroke-width="1.25"/>
<path d="M306 676.6L307.9 678.5L306 680.4L304.1 678.5Z" fill="#000"/>
<path d="M359.8 673.5L361.7 675.4L359.8 677.3L357.9 675.4Z" fill="#000"/>
<path d="M413 671.9L414.9 673.8L413 675.7L411.1 673.8Z" fill="#000"/>
<polyline points="306,675.4 359.8,670.8 413,671.4" fill="none" stroke="#111" stroke-width="1.25" stroke-dasharray="3.4 2"/>
<path d="M306 673.4V677.4M304.8 673.4H307.2M304.8 677.4H307.2" stroke="#999" stroke-width="0.55" fill="none"/>
<rect x="304.29" y="673.69" width="3.42" height="3.42" fill="#000"/>
<path d="M359.8 667.8V673.8M358.6 667.8H361M358.6 673.8H361" stroke="#999" stroke-width="0.55" fill="none"/>
<rect x="358.09" y="669.09" width="3.42" height="3.42" fill="#000"/>
<path d="M413 669.9V672.9M411.8 669.9H414.2M411.8 672.9H414.2" stroke="#999" stroke-width="0.55" fill="none"/>
<rect x="411.29" y="669.69" width="3.42" height="3.42" fill="#000"/>
<polyline points="306,670.6 359.8,611.9 413,606.3" fill="none" stroke="#111" stroke-width="1.25" stroke-dasharray="1.3 1.5"/>
<path d="M306 668.6V672.6M304.8 668.6H307.2M304.8 672.6H307.2" stroke="#999" stroke-width="0.55" fill="none"/>
<path d="M306 668.7L307.9 672.12L304.1 672.12Z" fill="#000"/>
<path d="M359.8 606.9V616.9M358.6 606.9H361M358.6 616.9H361" stroke="#999" stroke-width="0.55" fill="none"/>
<path d="M359.8 610L361.7 613.42L357.9 613.42Z" fill="#000"/>
<path d="M413 603.3V609.3M411.8 603.3H414.2M411.8 609.3H414.2" stroke="#999" stroke-width="0.55" fill="none"/>
<path d="M413 604.4L414.9 607.82L411.1 607.82Z" fill="#000"/>
<polyline points="306,667.7 359.8,597 413,597" fill="none" stroke="#111" stroke-width="1.25" stroke-dasharray="5 1.8 1.3 1.8"/>
<path d="M306 664.7V670.7M304.8 664.7H307.2M304.8 670.7H307.2" stroke="#999" stroke-width="0.55" fill="none"/>
<path d="M304.96 666.66L307.04 668.74M307.04 666.66L304.96 668.74" stroke="#000" stroke-width="0.72"/>
<path d="M359.8 594V600M358.6 594H361M358.6 600H361" stroke="#999" stroke-width="0.55" fill="none"/>
<path d="M358.76 595.96L360.84 598.04M360.84 595.96L358.76 598.04" stroke="#000" stroke-width="0.72"/>
<path d="M413 594V600M411.8 594H414.2M411.8 600H414.2" stroke="#999" stroke-width="0.55" fill="none"/>
<path d="M411.96 595.96L414.04 598.04M414.04 595.96L411.96 598.04" stroke="#000" stroke-width="0.72"/>
<text x="328.6" y="708" font-family='"Liberation Serif", serif' font-weight="bold" font-size="11.9" text-anchor="start" fill="#111" stroke="#111" stroke-width="0.4" textLength="88.8" lengthAdjust="spacingAndGlyphs">Days of Treatment</text>
<path d="M450.5 603.3L453.4 606.2L450.5 609.1L447.6 606.2Z" fill="#000"/>
<text x="458" y="610.2" font-family='"Liberation Serif", serif' font-weight="bold" font-size="9.9" text-anchor="start" fill="#111" stroke="#111" stroke-width="0.4">Thy Intact-Dil</text>
<rect x="447.89" y="618.19" width="5.22" height="5.22" fill="#000"/>
<text x="458" y="624.8" font-family='"Liberation Serif", serif' font-weight="bold" font-size="9.9" text-anchor="start" fill="#111" stroke="#111" stroke-width="0.4">Thymex-Dil</text>
<path d="M450.5 632.5L453.4 637.72L447.6 637.72Z" fill="#000"/>
<text x="458" y="639.4" font-family='"Liberation Serif", serif' font-weight="bold" font-size="9.9" text-anchor="start" fill="#111" stroke="#111" stroke-width="0.4">Thy Intact-IL7</text>
<path d="M449.38 649.88L453.22 653.72M453.22 649.88L449.38 653.72" stroke="#000" stroke-width="1.32"/>
<text x="458" y="654" font-family='"Liberation Serif", serif' font-weight="bold" font-size="9.9" text-anchor="start" fill="#111" stroke="#111" stroke-width="0.4">Thymex-IL7</text>
</svg>
</body></html>
